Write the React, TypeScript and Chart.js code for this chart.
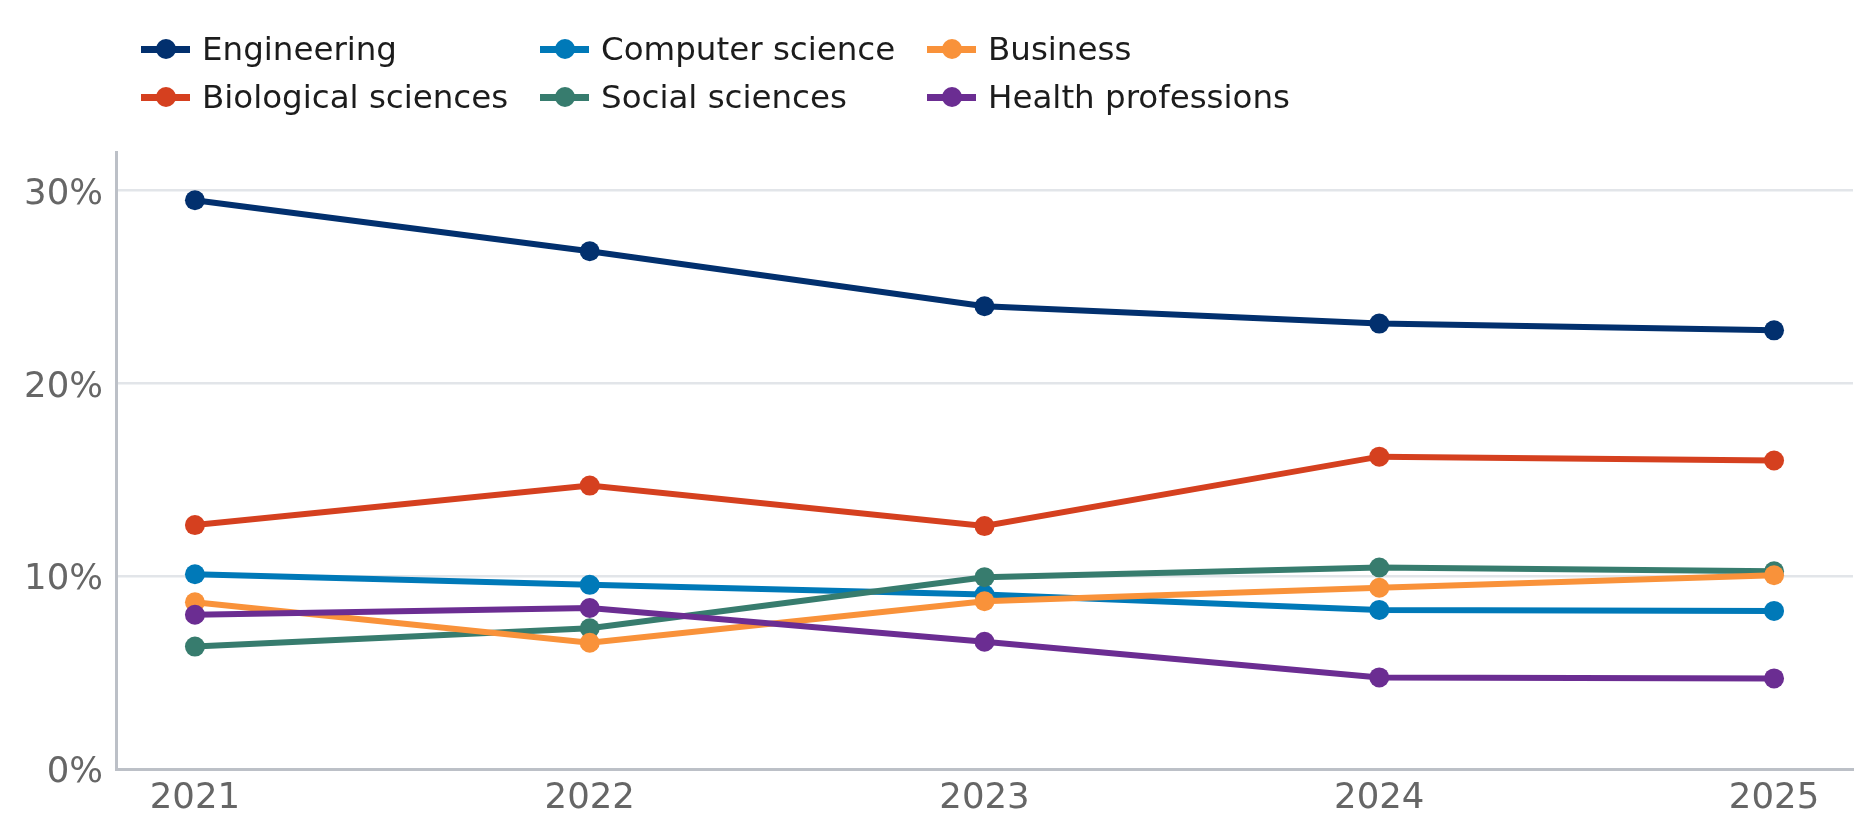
import React, { useEffect, useRef } from "react";
import { Chart, registerables, ChartConfiguration } from "chart.js";

Chart.register(...registerables);

const YEARS = [2021, 2022, 2023, 2024, 2025];

const SERIES_NAMES = [
  "Engineering",
  "Biological sciences",
  "Computer science",
  "Social sciences",
  "Business",
  "Health professions",
];

const ENGINEERING = [29.5, 26.85, 24.0, 23.1, 22.75];
const BIOLOGICAL = [12.65, 14.7, 12.6, 16.2, 16.0];
const COMPUTER_SCIENCE = [10.1, 9.55, 9.05, 8.25, 8.2];
const SOCIAL = [6.35, 7.3, 9.95, 10.45, 10.25];
const BUSINESS = [8.65, 6.55, 8.7, 9.4, 10.05];
const HEALTH = [8.0, 8.35, 6.6, 4.75, 4.7];

const SERIES_VALUES = [ENGINEERING, BIOLOGICAL, COMPUTER_SCIENCE, SOCIAL, BUSINESS, HEALTH];

const COLORS = [
  "#02306e", // Engineering
  "#d5401f", // Biological
  "#0079b8", // Computer science
  "#377c6e", // Social
  "#f9923a", // Business
  "#6b2d92", // Health
];

const Y_TICKS = [0, 10, 20, 30];

const FONT = "'DejaVu Sans', sans-serif";

const App: React.FC = () => {
  const canvasRef = useRef<HTMLCanvasElement | null>(null);

  useEffect(() => {
    document.body.style.margin = "0";
    if (!canvasRef.current) return;

    const config: ChartConfiguration<"line"> = {
      type: "line",
      data: {
        datasets: SERIES_NAMES.map((name, i) => ({
          label: name,
          data: YEARS.map((yr, j) => ({ x: yr, y: SERIES_VALUES[i][j] })),
          borderColor: COLORS[i],
          backgroundColor: COLORS[i],
          borderWidth: 6,
          pointRadius: 10,
          pointBorderWidth: 0,
          pointBackgroundColor: COLORS[i],
          tension: 0,
          order: SERIES_NAMES.length - 1 - i,
        })),
      },
      options: {
        animation: false,
        responsive: true,
        maintainAspectRatio: false,
        layout: { padding: { top: 152, right: 22, bottom: 0, left: 0 } },
        plugins: {
          legend: { display: false },
          tooltip: { enabled: false },
        },
        scales: {
          x: {
            type: "linear",
            min: 2020.8,
            max: 2025.2,
            afterFit: (scale) => {
              scale.height = 69;
            },
            afterBuildTicks: (scale) => {
              scale.ticks = YEARS.map((v) => ({ value: v }));
            },
            grid: { display: false, drawTicks: false },
            border: { display: true, color: "#bcc0c7", width: 3 },
            ticks: {
              autoSkip: false,
              padding: 8,
              color: "#666666",
              font: { family: FONT, size: 35.5 },
              callback: (v) => String(v),
            },
          },
          y: {
            min: 0,
            max: 32,
            afterFit: (scale) => {
              scale.width = 116;
            },
            afterBuildTicks: (scale) => {
              scale.ticks = Y_TICKS.map((v) => ({ value: v }));
            },
            grid: { color: "#e2e5e9", lineWidth: 2.5, drawTicks: false },
            border: { display: true, color: "#bcc0c7", width: 3 },
            ticks: {
              padding: 13,
              labelOffset: 4,
              color: "#666666",
              font: { family: FONT, size: 35.5 },
              callback: (v) => `${v}%`,
            },
          },
        },
      },
    };

    const chart = new Chart(canvasRef.current, config);
    return () => {
      chart.destroy();
    };
  }, []);

  return (
    <div style={{ position: "relative", width: 1875, height: 838, background: "#fff", fontFamily: FONT }}>
      {/* Legend, 3 columns filled top to bottom */}
      <div
        style={{
          position: "absolute",
          left: 141,
          top: 25,
          display: "grid",
          gridTemplateColumns: "399px 387px auto",
          gridTemplateRows: "48px 48px",
          gridAutoFlow: "column",
          zIndex: 1,
        }}
      >
        {SERIES_NAMES.map((name, i) => (
          <div key={name} style={{ display: "flex", alignItems: "center" }}>
            <span style={{ position: "relative", width: 49, height: 20, marginRight: 12, flex: "none" }}>
              <span
                style={{
                  position: "absolute",
                  left: 0,
                  top: 6.5,
                  width: 49,
                  height: 7,
                  background: COLORS[i],
                }}
              />
              <span
                style={{
                  position: "absolute",
                  left: 14.5,
                  top: 0,
                  width: 20,
                  height: 20,
                  borderRadius: "50%",
                  background: COLORS[i],
                }}
              />
            </span>
            <span style={{ fontSize: 32.5, color: "#1c1c1c", whiteSpace: "nowrap" }}>{name}</span>
          </div>
        ))}
      </div>
      <div style={{ position: "absolute", left: 0, top: 0, width: 1875, height: 838 }}>
        <canvas ref={canvasRef} />
      </div>
    </div>
  );
};

export default App;
